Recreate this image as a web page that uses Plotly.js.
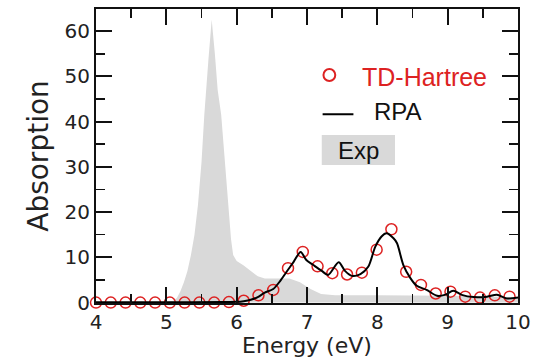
<!DOCTYPE html>
<html>
<head>
<meta charset="utf-8">
<script src="https://cdn.plot.ly/plotly-3.0.1.min.js"></script>
<style>html,body{margin:0;padding:0;background:#fff;}#chart{width:538px;height:358px;}</style>
</head>
<body>
<div id="chart"></div>
<script>
// Experimental spectrum (grey filled area)
const expX = [4.0, 5.0, 5.1, 5.15, 5.2, 5.25, 5.3, 5.35, 5.4, 5.45, 5.5, 5.54, 5.6, 5.645, 5.69, 5.73, 5.78, 5.83, 5.89, 5.92, 5.95, 6.0, 6.1, 6.2, 6.3, 6.4, 6.5, 6.75, 6.9, 7.05, 7.2, 7.4, 8.0, 9.0, 10.0];
const expY = [0, 0.1, 0.4, 1.0, 2.5, 4.5, 7, 10.5, 15, 21.6, 31, 41.5, 54, 62.5, 55, 47, 41.5, 32, 21.6, 14, 10.5, 9.2, 8.2, 7.0, 5.8, 5.3, 5.3, 5.3, 4.5, 3.0, 1.9, 1.6, 1.6, 1.5, 1.2];

// TD-Hartree (open red circles)
const tdX = [4.00, 4.21, 4.42, 4.63, 4.84, 5.05, 5.26, 5.47, 5.68, 5.89, 6.10, 6.31, 6.52, 6.73, 6.94, 7.15, 7.36, 7.57, 7.78, 7.99, 8.20, 8.41, 8.62, 8.83, 9.04, 9.25, 9.46, 9.67, 9.88];
const tdY = [0, 0, 0, 0, 0, 0, 0, 0, 0, 0.1, 0.4, 1.6, 2.8, 7.6, 11.2, 8.0, 6.5, 6.2, 6.6, 11.7, 16.2, 6.8, 3.9, 2.0, 2.4, 1.3, 1.1, 1.6, 1.3];

// RPA (black line)
const rpaX = [4.0, 5.0, 5.8, 6.0, 6.1, 6.2, 6.3, 6.4, 6.52, 6.62, 6.71, 6.81, 6.91, 6.99, 7.09, 7.21, 7.3, 7.45, 7.54, 7.64, 7.76, 7.87, 7.97, 8.06, 8.13, 8.23, 8.28, 8.37, 8.47, 8.56, 8.70, 8.85, 8.96, 9.08, 9.2, 9.37, 9.56, 9.7, 9.84, 10.0];
const rpaY = [0.05, 0.05, 0.1, 0.15, 0.3, 0.6, 1.2, 2.2, 3.0, 4.8, 6.8, 9.0, 11.2, 9.4, 8.3, 7.0, 6.1, 8.9, 7.0, 5.9, 6.3, 7.9, 12.3, 14.6, 15.3, 14.2, 13.1, 8.3, 5.4, 3.7, 2.8, 1.5, 1.7, 2.6, 1.7, 1.2, 1.3, 1.7, 0.9, 1.1];

const seriesNames = ['TD-Hartree', 'RPA', 'Exp'];
const xTitle = 'Energy (eV)';
const yTitle = 'Absorption';

const RED = '#dd2222';
const GREY = '#d9d9d9';

const traces = [
  {x: expX, y: expY, type: 'scatter', mode: 'lines', name: seriesNames[2],
   fill: 'tozeroy', fillcolor: GREY, line: {width: 0, color: GREY}, showlegend: false, hoverinfo: 'skip'},
  {x: tdX, y: tdY, type: 'scatter', mode: 'markers', name: seriesNames[0], cliponaxis: false,
   marker: {symbol: 'circle-open', size: 11, color: RED, line: {width: 1.5, color: RED}}, showlegend: false},
  {x: rpaX, y: rpaY, type: 'scatter', mode: 'lines', name: seriesNames[1],
   line: {color: '#000', width: 2, shape: 'spline', smoothing: 0.8}, showlegend: false}
];

const tickFont = {family: 'DejaVu Sans', size: 20, color: '#222'};

const layout = {
  width: 538, height: 358,
  margin: {l: 96, r: 20, t: 9, b: 55},
  paper_bgcolor: '#fff', plot_bgcolor: '#fff',
  showlegend: false,
  xaxis: {
    range: [4, 10], tickvals: [4, 5, 6, 7, 8, 9, 10], ticktext: ['4', '5', '6', '7', '8', '9', '10'],
    ticks: 'inside', ticklen: 16, tickwidth: 2, tickcolor: '#111',
    minor: {dtick: 0.5, ticks: 'inside', ticklen: 9, tickwidth: 1.5, tickcolor: '#111'},
    showline: true, linecolor: '#111', linewidth: 2, mirror: 'ticks',
    showgrid: false, zeroline: false, tickfont: tickFont,
    title: {text: xTitle, font: {family: 'DejaVu Sans', size: 22, color: '#222'}, standoff: 8}
  },
  yaxis: {
    range: [-0.1, 64.9], tickvals: [0, 10, 20, 30, 40, 50, 60],
    ticks: 'inside', ticklen: 16, tickwidth: 2, tickcolor: '#111',
    minor: {dtick: 5, ticks: 'inside', ticklen: 9, tickwidth: 1.5, tickcolor: '#111'},
    showline: true, linecolor: '#111', linewidth: 2, mirror: 'ticks',
    showgrid: false, zeroline: false, tickfont: tickFont,
    title: {text: yTitle, font: {family: 'DejaVu Sans', size: 28, color: '#222'}, standoff: 8}
  },
  shapes: [
    {type: 'circle', xref: 'paper', yref: 'paper', x0: 0.539, x1: 0.567, y0: 0.755, y1: 0.796,
     line: {color: RED, width: 2}},
    {type: 'line', xref: 'paper', yref: 'paper', x0: 0.537, x1: 0.610, y0: 0.642, y1: 0.642,
     line: {color: '#000', width: 2}},
    {type: 'rect', xref: 'paper', yref: 'paper', x0: 0.535, x1: 0.7085, y0: 0.4694, y1: 0.5714,
     fillcolor: GREY, line: {width: 0}}
  ],
  annotations: [
    {xref: 'paper', yref: 'paper', x: 0.6256, y: 0.770, xanchor: 'left', yanchor: 'middle', showarrow: false,
     text: seriesNames[0], font: {family: 'Liberation Sans', size: 25, color: RED}},
    {xref: 'paper', yref: 'paper', x: 0.653, y: 0.653, xanchor: 'left', yanchor: 'middle', showarrow: false,
     text: seriesNames[1], font: {family: 'Liberation Sans', size: 24, color: '#111'}},
    {xref: 'paper', yref: 'paper', x: 0.568, y: 0.520, xanchor: 'left', yanchor: 'middle', showarrow: false,
     text: seriesNames[2], font: {family: 'Liberation Sans', size: 24, color: '#111'}}
  ]
};

Plotly.newPlot('chart', traces, layout, {staticPlot: true, displayModeBar: false});
</script>
</body>
</html>
